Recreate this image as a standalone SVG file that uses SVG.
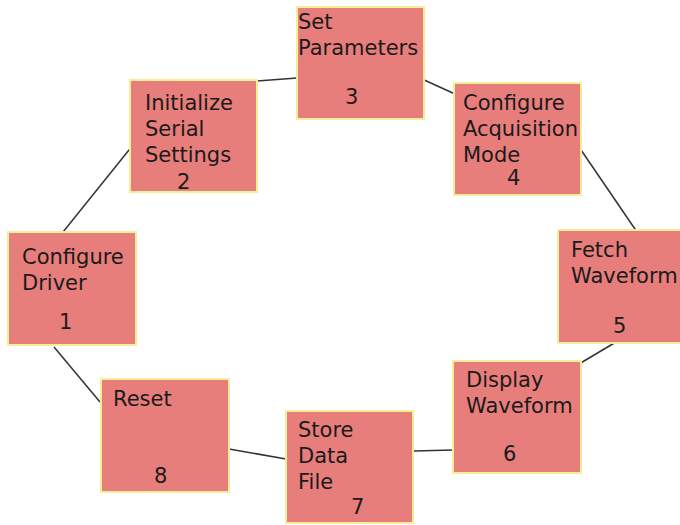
<svg xmlns="http://www.w3.org/2000/svg" width="680" height="525" viewBox="0 0 680 525">
<style>
.box{fill:#E77E7C;stroke:#F3EE98;stroke-width:2}
.t{font-family:"DejaVu Sans",Verdana,sans-serif;font-size:21px;fill:#1a1a1a}
.c{stroke:#333;stroke-width:1.5;fill:none}
</style>
<rect width="680" height="525" fill="#fff"/>
<g id="connectors">
<line class="c" x1="59" y1="237" x2="133" y2="145"/>
<line class="c" x1="257" y1="81" x2="297" y2="78"/>
<line class="c" x1="422" y1="79" x2="455" y2="94"/>
<line class="c" x1="579" y1="147" x2="637" y2="232"/>
<line class="c" x1="616" y1="342" x2="579" y2="364"/>
<line class="c" x1="453" y1="450" x2="414" y2="451"/>
<line class="c" x1="286" y1="459" x2="229" y2="449"/>
<line class="c" x1="100" y1="402" x2="54" y2="347"/>
</g>
<g id="node1">
<rect class="box" x="8" y="232" width="128" height="113"/>
<text class="t" x="22" y="264">Configure</text>
<text class="t" x="22" y="290">Driver</text>
<text class="t" x="59" y="329">1</text>
</g>
<g id="node2">
<rect class="box" x="130" y="80" width="127" height="112"/>
<text class="t" x="145" y="110">Initialize</text>
<text class="t" x="145" y="136">Serial</text>
<text class="t" x="145" y="162">Settings</text>
<text class="t" x="177" y="189">2</text>
</g>
<g id="node3">
<rect class="box" x="297" y="7" width="127" height="112"/>
<text class="t" x="298" y="29">Set</text>
<text class="t" x="298" y="55">Parameters</text>
<text class="t" x="345" y="104">3</text>
</g>
<g id="node4">
<rect class="box" x="454" y="83" width="127" height="112"/>
<text class="t" x="463" y="110">Configure</text>
<text class="t" x="463" y="136">Acquisition</text>
<text class="t" x="463" y="162">Mode</text>
<text class="t" x="507" y="185">4</text>
</g>
<g id="node5">
<rect class="box" x="558" y="230" width="128" height="113"/>
<text class="t" x="571" y="257">Fetch</text>
<text class="t" x="571" y="283">Waveform</text>
<text class="t" x="613" y="333">5</text>
</g>
<g id="node6">
<rect class="box" x="453" y="361" width="128" height="112"/>
<text class="t" x="466" y="387">Display</text>
<text class="t" x="466" y="413">Waveform</text>
<text class="t" x="503" y="461">6</text>
</g>
<g id="node7">
<rect class="box" x="286" y="411" width="127" height="112"/>
<text class="t" x="298" y="437">Store</text>
<text class="t" x="298" y="463">Data</text>
<text class="t" x="298" y="489">File</text>
<text class="t" x="351" y="514">7</text>
</g>
<g id="node8">
<rect class="box" x="101" y="379" width="128" height="113"/>
<text class="t" x="113" y="406">Reset</text>
<text class="t" x="154" y="483">8</text>
</g>
</svg>
